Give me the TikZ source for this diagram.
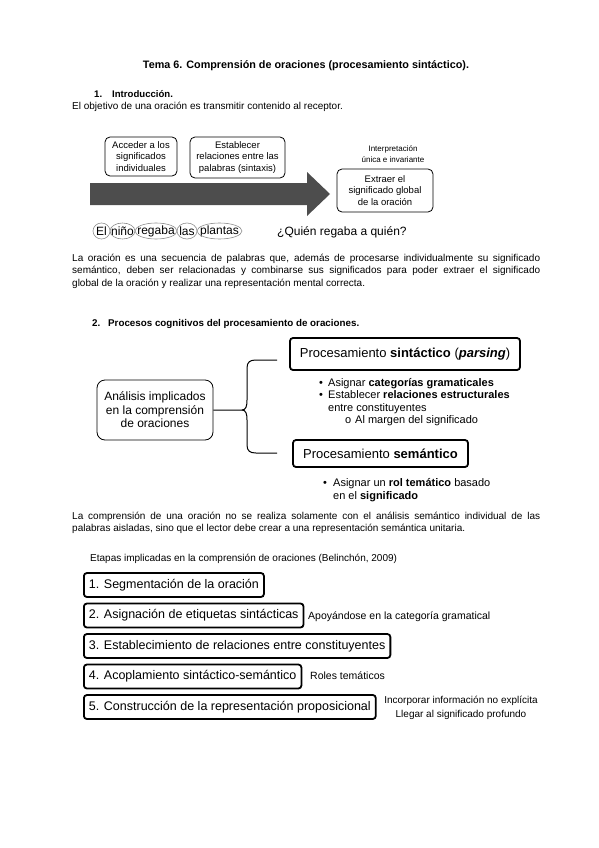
\documentclass[tikz,border=0pt]{standalone}
\usepackage{fontspec}
\setmainfont{Liberation Sans}
\definecolor{grisflecha}{RGB}{77,77,77}
\definecolor{grisovalo}{RGB}{140,140,140}
\newcommand{\tam}[2]{\fontsize{#1}{#2}\selectfont}

\tikzset{
	texto/.style={inner sep=0pt, anchor=base west},
	cajafina/.style={draw, line width=0.8pt, rounded corners=5pt, align=center, inner sep=2pt, font=\tam{9.5}{11.5}},
	cajagruesa/.style={draw, line width=1.8pt, rounded corners=3pt, inner xsep=5pt, inner ysep=0pt, anchor=west, minimum height=24pt, font=\tam{12.5}{14}},
	lista/.style={texto, font=\tam{11}{12.5}},
}

\begin{document}
\begin{tikzpicture}[x=1pt, y=-1pt]
		\useasboundingbox (0, 0) rectangle (599, 848);
		% encabezado
		\node[texto, anchor=base, font=\tam{10.8}{12}\bfseries] (titulo) at (306, 69) {Tema 6. Comprensión de oraciones (procesamiento sintáctico).};
		\node[texto, font=\tam{9.6}{11}\bfseries] (num1) at (94, 98) {1.};
		\node[texto, font=\tam{9.6}{11}\bfseries] (intro) at (112, 98) {Introducción.};
		\node[texto, font=\tam{10}{12}] (objetivo) at (72, 109.5) {El objetivo de una oración es transmitir contenido al receptor.};

		% flecha y cajas
		\fill[grisflecha] (90, 183) -- (307, 183) -- (307, 172) -- (330, 194) -- (307, 216) -- (307, 205) -- (90, 205) -- cycle;
		\node[cajafina, minimum width=72pt, minimum height=39pt] (acceder) at (141, 156.5) {Acceder a los\\significados\\individuales};
		\node[cajafina, minimum width=95pt, minimum height=41pt] (establecer) at (237.5, 157.5) {Establecer\\relaciones entre las\\palabras (sintaxis)};
		\node[texto, anchor=center, align=center, font=\tam{8}{10.5}] (interpretacion) at (393, 154) {Interpretación\\única e invariante};
		\node[cajafina, minimum width=96pt, minimum height=43pt] (extraer) at (385, 190.5) {Extraer el\\significado global\\de la oración};

		% frase con ovalos
		\node[font=\tam{12}{14}, inner sep=0pt] (el) at (101.5, 231) {El};
		\node[font=\tam{12}{14}, inner sep=0pt] (nino) at (122.5, 231) {niño};
		\node[font=\tam{12}{14}, inner sep=0pt] (regaba) at (156, 231) {regaba};
		\node[font=\tam{12}{14}, inner sep=0pt] (las) at (187, 231) {las};
		\node[font=\tam{12}{14}, inner sep=0pt] (plantas) at (219.5, 231) {plantas};
		\draw[grisovalo, line width=0.6pt] (el) ellipse (8.5 and 8);
		\draw[grisovalo, line width=0.6pt] (nino) ellipse (12.5 and 8);
		\draw[grisovalo, line width=0.6pt] (regaba) ellipse (21 and 8);
		\draw[grisovalo, line width=0.6pt] (las) ellipse (10 and 8);
		\draw[grisovalo, line width=0.6pt] (plantas) ellipse (22.5 and 8);
		\node[texto, font=\tam{12}{14}] (pregunta) at (277, 235.5) {¿Quién regaba a quién?};

		\node[texto, text width=468pt, align=justify, font=\tam{10}{12.5}] (parrafo1) at (72, 261) {La oración es una secuencia de palabras que, además de procesarse individualmente su significado\linebreak semántico, deben ser relacionadas y combinarse sus significados para poder extraer el significado\linebreak global de la oración y realizar una representación mental correcta.};

		% seccion 2
		\node[texto, font=\tam{9.8}{11}\bfseries] (num2) at (92, 326) {2.};
		\node[texto, font=\tam{9.8}{11}\bfseries] (procesos) at (108, 326) {Procesos cognitivos del procesamiento de oraciones.};

		\node[draw, line width=0.8pt, rounded corners=8pt, minimum width=116pt, minimum height=60pt, align=center, font=\tam{12}{13.5}] (analisis) at (155, 410) {Análisis implicados\\en la comprensión\\de oraciones};
		\node[cajagruesa, anchor=center, minimum width=230pt, minimum height=32pt, font=\tam{13}{15}] (sintactico) at (405, 354) {Procesamiento \textbf{sintáctico} (\textbf{\textit{parsing}})};
		\node[cajagruesa, anchor=center, minimum width=175pt, minimum height=27pt, font=\tam{13}{15}] (semantico) at (380.5, 453.5) {Procesamiento \textbf{semántico}};

		\coordinate (punta) at (242, 410);
		\coordinate (brazoarriba) at (277, 360);
		\coordinate (brazoabajo) at (277, 453);
		\draw[line width=1pt] (analisis.east) -- (punta) .. controls (246, 410) and (247, 406) .. (247, 400) -- (247, 368) .. controls (247, 362) and (250, 360) .. (256, 360) -- (brazoarriba);
		\draw[line width=1pt] (punta) .. controls (246, 410) and (247, 414) .. (247, 420) -- (247, 445) .. controls (247, 451) and (250, 453) .. (256, 453) -- (brazoabajo);

		\node[lista] (bala1) at (319, 386) {•};
		\node[lista] (categorias) at (328, 386) {Asignar \textbf{categorías gramaticales}};
		\node[lista] (bala2) at (319, 398.5) {•};
		\node[lista] (relaciones) at (328, 398.5) {Establecer \textbf{relaciones estructurales}};
		\node[lista] (constituyentes) at (328, 411) {entre constituyentes};
		\node[lista] (bala3) at (345, 423.5) {o};
		\node[lista] (margen) at (355, 423.5) {Al margen del significado};
		\node[lista] (bala4) at (323, 486) {•};
		\node[lista] (rol) at (333, 486) {Asignar un \textbf{rol temático} basado};
		\node[lista] (significado) at (333, 499) {en el \textbf{significado}};

		\node[texto, text width=468pt, align=justify, font=\tam{10}{12.5}] (parrafo2) at (72, 519) {La comprensión de una oración no se realiza solamente con el análisis semántico individual de las\linebreak palabras aisladas, sino que el lector debe crear a una representación semántica unitaria.};

		% etapas
		\node[texto, font=\tam{10}{12}] (etapas) at (90, 561) {Etapas implicadas en la comprensión de oraciones (Belinchón, 2009)};
		\node[cajagruesa] (etapa1) at (83, 585) {1. Segmentación de la oración};
		\node[cajagruesa] (etapa2) at (83, 615.5) {2. Asignación de etiquetas sintácticas};
		\node[cajagruesa] (etapa3) at (83, 646) {3. Establecimiento de relaciones entre constituyentes};
		\node[cajagruesa] (etapa4) at (83, 676.5) {4. Acoplamiento sintáctico-semántico};
		\node[cajagruesa] (etapa5) at (83, 707) {5. Construcción de la representación proposicional};
		\node[texto, font=\tam{10.5}{12}] (apoyandose) at (308, 619) {Apoyándose en la categoría gramatical};
		\node[texto, font=\tam{10.5}{12}] (roles) at (310, 679.5) {Roles temáticos};
		\node[texto, anchor=center, align=center, font=\tam{10}{14.5}] (notas) at (461, 708) {Incorporar información no explícita\\Llegar al significado profundo};
	\end{tikzpicture}
\end{document}
